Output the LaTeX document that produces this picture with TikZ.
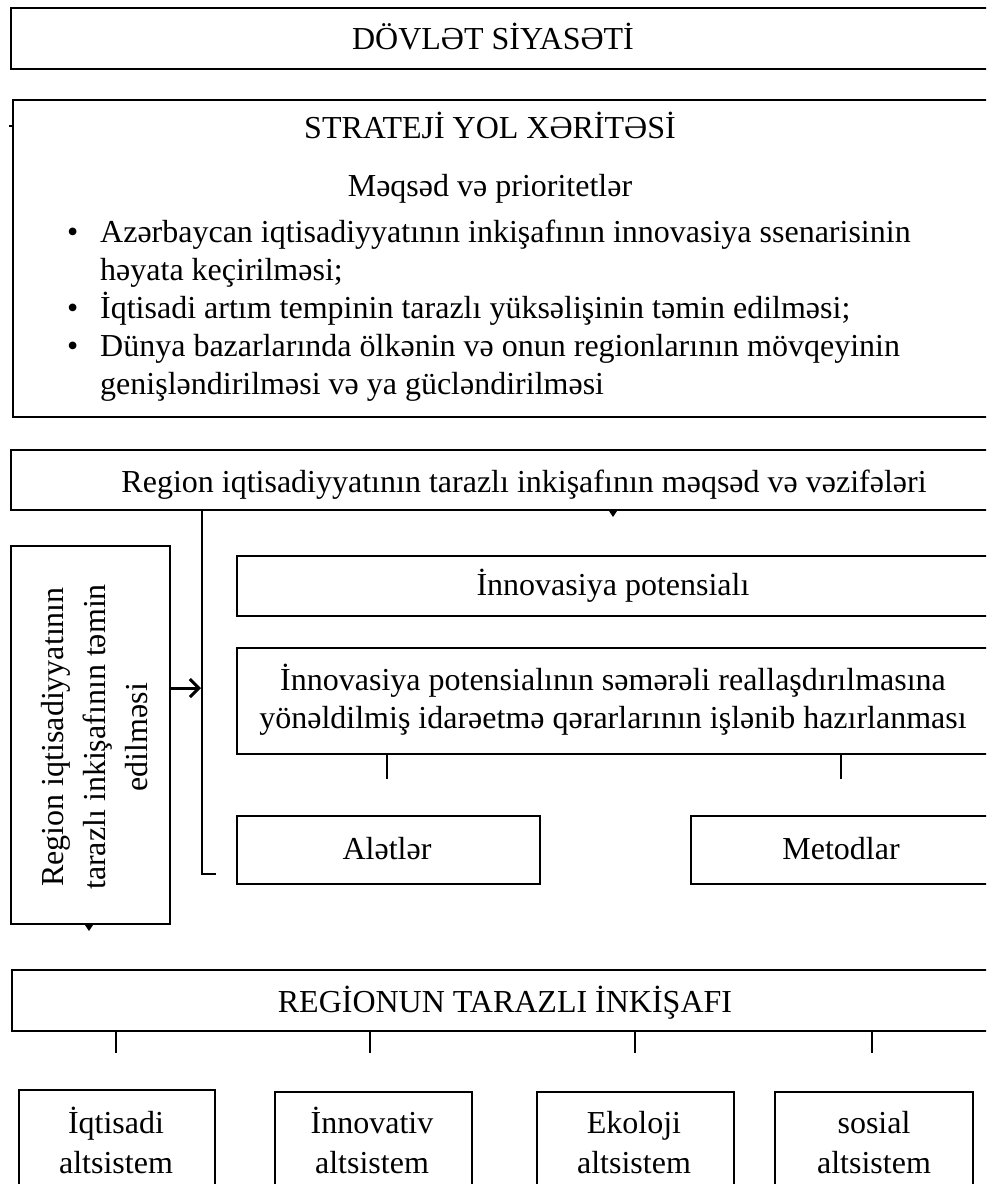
\documentclass[tikz,border=0pt]{standalone}
\usepackage{fontspec}
\setmainfont{Liberation Serif}
\usetikzlibrary{arrows.meta}
\begin{document}
\begin{tikzpicture}[x=1pt,y=-1pt,
  frame/.style={draw=black, line width=2pt, rectangle, inner sep=0pt, anchor=north west},
  txt/.style={font=\fontsize{32}{38}\selectfont, inner sep=0pt, anchor=base},
  rtxt/.style={txt, rotate=90},
  wire/.style={line width=1.5pt},
  bigarrow/.style={line width=3pt, -{Straight Barb[length=9pt,width=18pt,line width=3pt]}},
  tip/.style={fill=black}]
\useasboundingbox (0,0) rectangle (986,1184);
\clip (0,0) rectangle (986,1184);

% --- boxes ---
\node[frame, minimum width=990, minimum height=61] (dov) at (10,7) {};
\node[frame, minimum width=988, minimum height=317] (strat) at (12,99) {};
\node[frame, minimum width=990, minimum height=60] (reg) at (10,449) {};
\node[frame, minimum width=159, minimum height=378] (left) at (10,545) {};
\node[frame, minimum width=764, minimum height=60] (pot) at (236,555) {};
\node[frame, minimum width=764, minimum height=106] (dec) at (236,647) {};
\node[frame, minimum width=303, minimum height=68] (tools) at (236,815) {};
\node[frame, minimum width=310, minimum height=68] (meth) at (690,815) {};
\node[frame, minimum width=989, minimum height=61] (bal) at (11,969) {};
\node[frame, minimum width=196, minimum height=120] (s1) at (18,1089) {};
\node[frame, minimum width=197, minimum height=120] (s2) at (274,1091) {};
\node[frame, minimum width=197, minimum height=120] (s3) at (536,1091) {};
\node[frame, minimum width=198, minimum height=120] (s4) at (774,1091) {};

% --- texts ---
\node[txt] (dovt) at (493,49) {DÖVLƏT SİYASƏTİ};
\node[txt] (stratt) at (490,138) {STRATEJİ YOL XƏRİTƏSİ};
\node[txt] (goalt) at (490,196) {Məqsəd və prioritetlər};
\node[txt, anchor=base west] (goals) at (67,242) {%
  \begin{tabular}[t]{@{}p{33pt}@{}l@{}}
  \textbullet & Azərbaycan iqtisadiyyatının inkişafının innovasiya ssenarisinin\\
   & həyata keçirilməsi;\\
  \textbullet & İqtisadi artım tempinin tarazlı yüksəlişinin təmin edilməsi;\\
  \textbullet & Dünya bazarlarında ölkənin və onun regionlarının mövqeyinin\\
   & genişləndirilməsi və ya gücləndirilməsi
  \end{tabular}};
\node[txt] (regt) at (524,492) {Region iqtisadiyyatının tarazlı inkişafının məqsəd və vəzifələri};
\node[rtxt] (lt1) at (63,737) {Region iqtisadiyyatının};
\node[rtxt] (lt2) at (105,737) {tarazlı inkişafının təmin};
\node[rtxt] (lt3) at (147,737) {edilməsi};
\node[txt] (pott) at (613,595) {İnnovasiya potensialı};
\node[txt] (dect1) at (613,690) {İnnovasiya potensialının səmərəli reallaşdırılmasına};
\node[txt] (dect2) at (613,728) {yönəldilmiş idarəetmə qərarlarının işlənib hazırlanması};
\node[txt] (toolst) at (387,859) {Alətlər};
\node[txt] (metht) at (841,859) {Metodlar};
\node[txt] (balt) at (505,1012) {REGİONUN TARAZLI İNKİŞAFI};
\node[txt] (s1a) at (116,1133) {İqtisadi};
\node[txt] (s1b) at (116,1173) {altsistem};
\node[txt] (s2a) at (372,1133) {İnnovativ};
\node[txt] (s2b) at (372,1173) {altsistem};
\node[txt] (s3a) at (634,1133) {Ekoloji};
\node[txt] (s3b) at (634,1173) {altsistem};
\node[txt] (s4a) at (874,1133) {sosial};
\node[txt] (s4b) at (874,1173) {altsistem};

% --- connectors ---
\coordinate (mark) at (9,126);
\draw[line width=1.5pt] (mark) -- (strat.west |- mark);

\coordinate (regtip) at (613,517);
\fill[tip] (reg.south -| regtip) ++(-4,0) -- ++(8,0) -- (regtip) -- cycle;

\coordinate (brbot) at (202,874);
\coordinate (brend) at (216,874);
\draw[wire] (reg.south -| brbot) -- (brbot) -- (brend);

\coordinate (arrtip) at (201,688);
\draw[bigarrow] (left.east |- arrtip) -- (arrtip);

\coordinate (lefttip) at (89,931);
\fill[tip] (left.south -| lefttip) ++(-4,0) -- ++(8,0) -- (lefttip) -- cycle;

\coordinate (d1) at (387,779);
\coordinate (d2) at (841,779);
\draw[wire] (dec.south -| d1) -- (d1);
\draw[wire] (dec.south -| d2) -- (d2);

\coordinate (b1) at (116,1053);
\coordinate (b2) at (370,1053);
\coordinate (b3) at (635,1053);
\coordinate (b4) at (872,1053);
\foreach \c in {b1,b2,b3,b4} \draw[wire] (bal.south -| \c) -- (\c);
\end{tikzpicture}
\end{document}
